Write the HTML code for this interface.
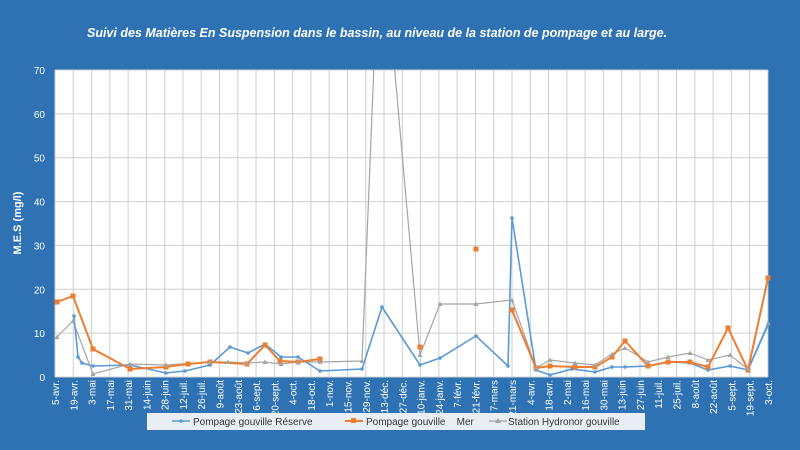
<!DOCTYPE html>
<html><head><meta charset="utf-8"><style>
html,body{margin:0;padding:0;background:#2e72b4;}
svg{display:block;font-family:"Liberation Sans",sans-serif;}
.pre{white-space:pre;}
</style></head><body>
<svg width="800" height="450" viewBox="0 0 800 450" xmlns="http://www.w3.org/2000/svg">
<rect width="800" height="450" fill="#2e72b4"/>
<text x="377" y="37" fill="#fff" font-size="12.5" font-style="italic" font-weight="bold" text-anchor="middle">Suivi des Matières En Suspension dans le bassin, au niveau de la station de pompage et au large.</text>
<rect x="55" y="70" width="713" height="307" fill="#fff"/>
<defs><clipPath id="c"><rect x="55" y="70" width="713" height="307"/></clipPath></defs>
<g id="grid" stroke="#cfcfcf" stroke-width="1"></g>
<g id="yl" fill="#fff" font-size="10" text-anchor="end"></g>
<g id="xl" fill="#fff" font-size="10"></g>
<text transform="translate(21,223) rotate(-90)" fill="#fff" font-size="11" font-weight="bold" text-anchor="middle">M.E.S (mg/l)</text>
<g clip-path="url(#c)" fill="none" stroke-width="1.6">
<polyline stroke="#a5a5a5" stroke-width="1.2" points="57,337 73,321 93,374 130,364 166,365 210,362 228,362 247,363 265,362 281,364 298,362 320,362 362,361 375,40 392,40 420,355 440,304 476,304 512,300 536,368 550,360 575,363 595,365 612,354 625,348 648,362 668,357 690,353 708,360 730,355 748,369 768,323"/>
<polyline stroke="#5b9bd5" points="74,316 78,357 82,363 93,366 130,365 166,373 185,371 210,365 230,347 248,353 265,344 281,357 298,357 320,371 362,369 382,307 420,365 440,358 476,336 508,366 512,218 536,370 550,375 572,369 595,372 612,367 625,367 648,366 668,362 690,363 708,370 730,366 748,370 768,325"/>
<polyline stroke="#ed7d31" stroke-width="2" points="57,302 73,296 93,349 130,369 166,367 188,364 210,362 247,364 265,345 280,361 298,362 320,359"/>
<polyline stroke="#ed7d31" stroke-width="2" points="512,310 536,368 550,366 575,367 595,367 612,357 625,341 648,366 668,362 690,362 708,367 728,328 748,370 768,278"/>
</g>
<g id="mk"></g>
<rect x="147" y="413" width="498" height="17" fill="#e9eef5"/>
<line x1="172" y1="421" x2="190" y2="421" stroke="#5b9bd5" stroke-width="1.5"/><circle cx="181" cy="421" r="1.8" fill="#5b9bd5"/>
<text x="193" y="425" font-size="10" fill="#333">Pompage gouville Réserve</text>
<line x1="345" y1="421" x2="363" y2="421" stroke="#ed7d31" stroke-width="2"/><rect x="351" y="418" width="5" height="5" fill="#ed7d31"/>
<text x="366" y="425" font-size="10" fill="#333" class="pre">Pompage gouville    Mer</text>
<line x1="489" y1="421" x2="507" y2="421" stroke="#a5a5a5" stroke-width="1.2"/><polygon points="498,418 501,423 495,423" fill="#a5a5a5"/>
<text x="508" y="425" font-size="10" fill="#333">Station Hydronor gouville</text>
</svg>
<script>
const ns="http://www.w3.org/2000/svg";
function el(t,a,p,txt){const e=document.createElementNS(ns,t);for(const k in a)e.setAttribute(k,a[k]);if(txt!==undefined)e.textContent=txt;document.getElementById(p).appendChild(e);}
const labs=["5-avr.","19-avr.","3-mai","17-mai","31-mai","14-juin","28-juin","12-juil.","26-juil.","9-août","23-août","6-sept.","20-sept.","4-oct.","18-oct.","1-nov.","15-nov.","29-nov.","13-déc.","27-déc.","10-janv.","24-janv.","7-févr.","21-févr.","7-mars","21-mars","4-avr.","18-avr.","2-mai","16-mai","30-mai","13-juin","27-juin","11-juil.","25-juil.","8-août","22-août","5-sept.","19-sept.","3-oct."];
for(let i=0;i<40;i++){const x=55+i*18.28;el("line",{x1:x,y1:70,x2:x,y2:377},"grid");
el("text",{transform:`translate(${x+4},380) rotate(-90)`,"text-anchor":"end"},"xl",labs[i]);}
for(let v=0;v<=70;v+=10){const y=377-v*307/70;el("line",{x1:55,y1:y,x2:768,y2:y},"grid");el("text",{x:45,y:y+4},"yl",String(v));}
const B=[[74,316],[78,357],[82,363],[93,366],[130,365],[166,373],[185,371],[210,365],[230,347],[248,353],[265,344],[281,357],[298,357],[320,371],[362,369],[382,307],[420,365],[440,358],[476,336],[508,366],[512,218],[536,370],[550,375],[572,369],[595,372],[612,367],[625,367],[648,366],[668,362],[690,363],[708,370],[730,366],[748,370],[768,325]];
B.forEach(p=>el("circle",{cx:p[0],cy:p[1],r:1.8,fill:"#5b9bd5"},"mk"));
const O=[[57,302],[73,296],[93,349],[130,369],[166,367],[188,364],[210,362],[247,364],[265,345],[280,361],[298,362],[320,359],[420,347],[476,249],[512,310],[536,368],[550,366],[575,367],[595,367],[612,357],[625,341],[648,366],[668,362],[690,362],[708,367],[728,328],[748,370],[768,278]];
O.forEach(p=>el("rect",{x:p[0]-2.5,y:p[1]-2.5,width:5,height:5,fill:"#ed7d31"},"mk"));
const G=[[57,337],[73,321],[93,374],[130,364],[166,365],[210,362],[228,362],[247,363],[265,362],[281,364],[298,362],[320,362],[362,361],[420,355],[440,304],[476,304],[512,300],[536,368],[550,360],[575,363],[595,365],[612,354],[625,348],[648,362],[668,357],[690,353],[708,360],[730,355],[748,369],[768,323]];
G.forEach(p=>el("polygon",{points:`${p[0]},${p[1]-2.5} ${p[0]+2.5},${p[1]+2} ${p[0]-2.5},${p[1]+2}`,fill:"#a5a5a5"},"mk"));
</script>
</body></html>
